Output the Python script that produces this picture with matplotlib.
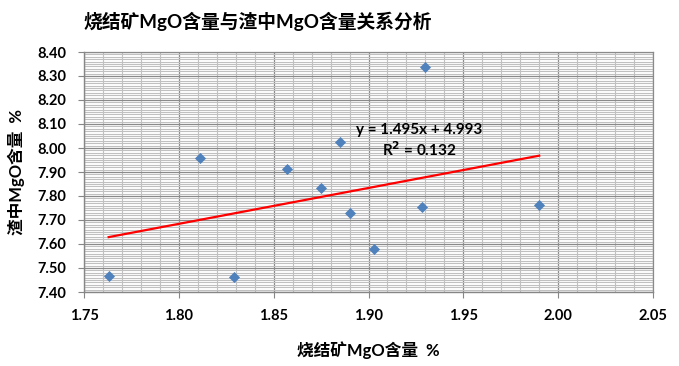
import matplotlib
matplotlib.use("Agg")
import matplotlib.pyplot as plt
import numpy as np
from matplotlib.ticker import MultipleLocator, FormatStrFormatter

plt.rcParams['font.family'] = ['Lato', 'Noto Sans CJK SC', 'DejaVu Sans']

# data
sinter_mgo = [1.763, 1.811, 1.829, 1.857, 1.875, 1.885, 1.890, 1.903, 1.928, 1.930, 1.990]
slag_mgo = [7.465, 7.958, 7.462, 7.912, 7.833, 8.023, 7.729, 7.579, 7.754, 8.336, 7.761]
trend_slope = 1.495
trend_intercept = 4.993
title = "烧结矿MgO含量与渣中MgO含量关系分析"
xlabel = "烧结矿MgO含量  %"
ylabel = "渣中MgO含量  %"
eq_text = "y = 1.495x + 4.993\nR$^\\mathbf{2}$ = 0.132"

W, H = 679, 366
fig = plt.figure(figsize=(W/100, H/100), dpi=100)
ax = fig.add_axes([84/W, 1-292/H, (653-84)/W, (292-52)/H])

ax.set_xlim(1.75, 2.05)
ax.set_ylim(7.40, 8.40)
ax.xaxis.set_major_locator(MultipleLocator(0.05))
ax.xaxis.set_minor_locator(MultipleLocator(0.01))
ax.yaxis.set_major_locator(MultipleLocator(0.10))
ax.yaxis.set_minor_locator(MultipleLocator(0.01))
ax.xaxis.set_major_formatter(FormatStrFormatter('%.2f'))
ax.yaxis.set_major_formatter(FormatStrFormatter('%.2f'))

ax.grid(which='minor', color='#c0c0c0', linewidth=0.8)
ax.grid(which='major', color='#8a8a8a', linewidth=0.9)
ax.set_axisbelow(True)
for s in ['top', 'right']:
    ax.spines[s].set_color('#8a8a8a')
    ax.spines[s].set_linewidth(0.9)
for s in ['left', 'bottom']:
    ax.spines[s].set_color('#868686')
    ax.spines[s].set_linewidth(1.0)

ax.tick_params(which='major', direction='out', length=4, color='#868686',
               labelsize=10.5)
ax.tick_params(axis='x', which='major', pad=8)
ax.tick_params(axis='y', which='major', pad=9)
ax.tick_params(which='minor', length=0)
for lab in ax.get_xticklabels() + ax.get_yticklabels():
    lab.set_fontweight('bold')

ax.scatter(sinter_mgo, slag_mgo, marker='D', s=32, color='#4F81BD', zorder=3, linewidths=0)

xs = np.array([min(sinter_mgo), max(sinter_mgo)])
ax.plot(xs, trend_slope*xs + trend_intercept, color='#FF0000', linewidth=1.6, zorder=2)

ax.text(1.9266, 8.03, eq_text, ha='center', va='center', fontsize=11,
        fontweight='bold', linespacing=1.2)

fig.text(258/W, 1-21/H, title, ha='center', va='center', fontsize=13.5, fontweight='bold')
fig.text(368/W, 1-350/H, xlabel, ha='center', va='center', fontsize=12, fontweight='bold')
fig.text(16/W, 1-172/H, ylabel, ha='center', va='center', fontsize=12, fontweight='bold',
         rotation=90)

fig.savefig("out.png", dpi=100)
